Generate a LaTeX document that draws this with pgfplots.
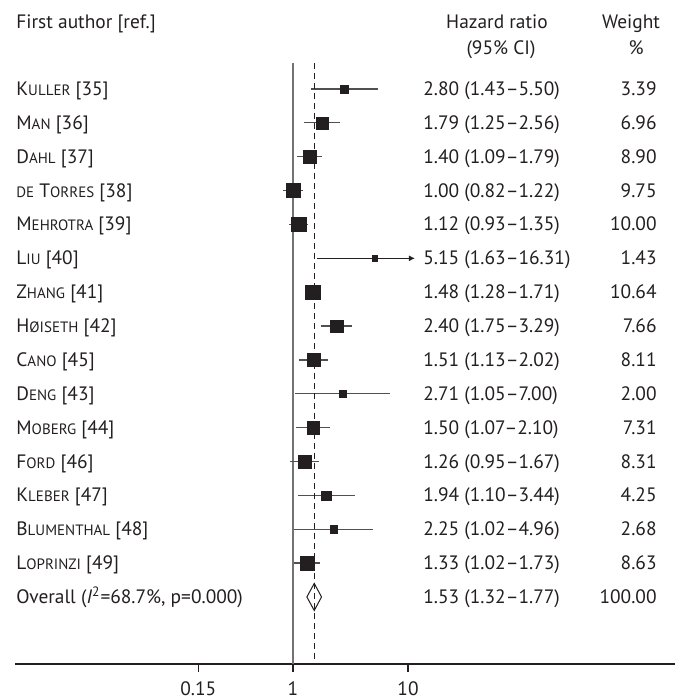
\documentclass[border=0pt]{standalone}
\usepackage{pgfplots}
\pgfplotsset{compat=1.18}
\usepackage{pgfplotstable}
\usepackage{fontspec}
\setmainfont{PT Sans}
\usetikzlibrary{arrows.meta}
\definecolor{ink}{HTML}{231F20}
\definecolor{ciline}{HTML}{505050}
\newcommand\fsc[2]{#1{\fontsize{7.5pt}{8pt}\selectfont #2}}

% r = row, hr = hazard ratio, lo/hi = 95% CI, w = weight (%)
\pgfplotstableread{
r hr lo hi w
1 2.80 1.43 5.50 3.39
2 1.79 1.25 2.56 6.96
3 1.40 1.09 1.79 8.90
4 1.00 0.82 1.22 9.75
5 1.12 0.93 1.35 10.00
6 5.15 1.63 16.31 1.43
7 1.48 1.28 1.71 10.64
8 2.40 1.75 3.29 7.66
9 1.51 1.13 2.02 8.11
10 2.71 1.05 7.00 2.00
11 1.50 1.07 2.10 7.31
12 1.26 0.95 1.67 8.31
13 1.94 1.10 3.44 4.25
14 2.25 1.02 4.96 2.68
15 1.33 1.02 1.73 8.63
}\studies

\begin{document}
\begin{tikzpicture}[font=\fontsize{9.7pt}{11.5pt}\selectfont, every node/.style={inner sep=0pt, text=ink}]
\path[use as bounding box] (0,0) rectangle (341.5pt,-350pt);
\begin{axis}[
  at={(7.5pt,-332pt)}, anchor=south west,
  scale only axis, width=330pt, height=300.5pt,
  xmode=log, xmin=0.003825, xmax=2097,
  ymin=-17.98, ymax=-0.232,
  axis x line*=bottom, axis y line=none,
  x axis line style={-, draw=ink, line width=0.6pt},
  xtick={0.15,1,10}, xticklabels={0.15,1,10},
  minor xtick={}, minor tick num=0,
  tick align=outside, major tick length=4pt,
  xtick style={draw=ink, line width=0.6pt},
  xticklabel style={text=ink, font=\fontsize{9.7pt}{11.5pt}\selectfont, yshift=-4.5pt},
  clip=false,
]
% reference line at 1
\addplot[draw=black!55, line width=0.6pt] coordinates {(1,-0.232) (1,-17.98)};
% confidence intervals
\addplot[ciline, line width=0.6pt] coordinates {(1.43,-1) (5.50,-1)};
\addplot[ciline, line width=0.6pt] coordinates {(1.25,-2) (2.56,-2)};
\addplot[ciline, line width=0.6pt] coordinates {(1.09,-3) (1.79,-3)};
\addplot[ciline, line width=0.6pt] coordinates {(0.82,-4) (1.22,-4)};
\addplot[ciline, line width=0.6pt] coordinates {(0.93,-5) (1.35,-5)};
\addplot[ink, line width=0.6pt, -{Latex[length=3pt,width=3pt]}] coordinates {(1.63,-6) (11.5,-6)};
\addplot[ciline, line width=0.6pt] coordinates {(1.28,-7) (1.71,-7)};
\addplot[ciline, line width=0.6pt] coordinates {(1.75,-8) (3.29,-8)};
\addplot[ciline, line width=0.6pt] coordinates {(1.13,-9) (2.02,-9)};
\addplot[ciline, line width=0.6pt] coordinates {(1.05,-10) (7.00,-10)};
\addplot[ciline, line width=0.6pt] coordinates {(1.07,-11) (2.10,-11)};
\addplot[ciline, line width=0.6pt] coordinates {(0.95,-12) (1.67,-12)};
\addplot[ciline, line width=0.6pt] coordinates {(1.10,-13) (3.44,-13)};
\addplot[ciline, line width=0.6pt] coordinates {(1.02,-14) (4.96,-14)};
\addplot[ciline, line width=0.6pt] coordinates {(1.02,-15) (1.73,-15)};
% weighted squares
\addplot[scatter, only marks, mark=square*,
  point meta=\thisrow{w},
  scatter/use mapped color={draw=ink, fill=ink},
  mark options={line width=0.2pt},
  visualization depends on={\thisrow{w}\as\wt},
  scatter/@pre marker code/.append style={/tikz/mark size={1.125*sqrt(\wt)}},
] table[x=hr, y expr=-\thisrow{r}] {\studies};
% overall diamond
\addplot[draw=ink, line width=0.5pt, fill=white] coordinates {(1.32,-16) (1.53,-15.6) (1.77,-16) (1.53,-16.4) (1.32,-16)};
% overall estimate line
\addplot[draw=ink, line width=0.6pt, dash pattern=on 3pt off 2pt] coordinates {(1.53,-0.232) (1.53,-17.98)};
\end{axis}

% headers
\node[anchor=base west] at (8pt,-14.25pt) {First author [ref.]};
\node[anchor=base] at (248.5pt,-14.25pt) {Hazard ratio};
\node[anchor=base] at (250.5pt,-27.25pt) {(95\% CI)};
\node[anchor=base] at (315.5pt,-14.25pt) {Weight};
\node[anchor=base] at (318pt,-27.25pt) {\%};

% study names
\foreach \i/\t in {
 1/{\fsc{K}{ULLER} [35]},
 2/{\fsc{M}{AN} [36]},
 3/{\fsc{D}{AHL} [37]},
 4/{\fsc{}{DE} \fsc{T}{ORRES} [38]},
 5/{\fsc{M}{EHROTRA} [39]},
 6/{\fsc{L}{IU} [40]},
 7/{\fsc{Z}{HANG} [41]},
 8/{\fsc{H}{ØISETH} [42]},
 9/{\fsc{C}{ANO} [45]},
 10/{\fsc{D}{ENG} [43]},
 11/{\fsc{M}{OBERG} [44]},
 12/{\fsc{F}{ORD} [46]},
 13/{\fsc{K}{LEBER} [47]},
 14/{\fsc{B}{LUMENTHAL} [48]},
 15/{\fsc{L}{OPRINZI} [49]},
 16/{Overall (\textit{I}\textsuperscript{2}=68.7\%, p=0.000)}}{
  \pgfmathsetmacro\yy{-(44.5+(\i-1)*16.935+3.25)}
  \node[anchor=base west] at (8pt,\yy pt) {\t};
}

% hazard ratios and weights
\foreach \i/\h/\w in {
 1/2.80 (1.43–5.50)/3.39,
 2/1.79 (1.25–2.56)/6.96,
 3/1.40 (1.09–1.79)/8.90,
 4/1.00 (0.82–1.22)/9.75,
 5/1.12 (0.93–1.35)/10.00,
 6/5.15 (1.63–16.31)/1.43,
 7/1.48 (1.28–1.71)/10.64,
 8/2.40 (1.75–3.29)/7.66,
 9/1.51 (1.13–2.02)/8.11,
 10/2.71 (1.05–7.00)/2.00,
 11/1.50 (1.07–2.10)/7.31,
 12/1.26 (0.95–1.67)/8.31,
 13/1.94 (1.10–3.44)/4.25,
 14/2.25 (1.02–4.96)/2.68,
 15/1.33 (1.02–1.73)/8.63,
 16/1.53 (1.32–1.77)/100.00}{
  \pgfmathsetmacro\yy{-(44.5+(\i-1)*16.935+3.25)}
  \node[anchor=base west] at (211.5pt,\yy pt) {\h};
  \node[anchor=base east] at (328.5pt,\yy pt) {\w};
}
\end{tikzpicture}
\end{document}
